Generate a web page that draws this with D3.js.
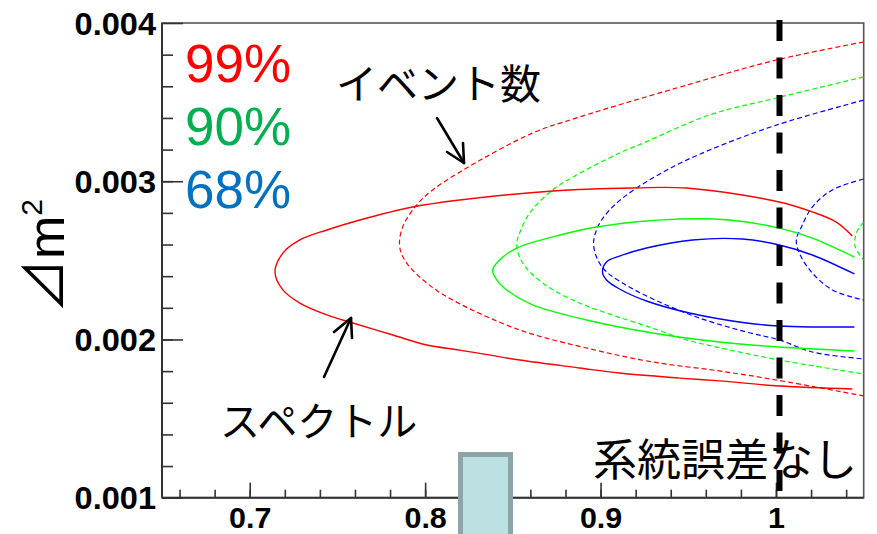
<!DOCTYPE html>
<html>
<head>
<meta charset="utf-8">
<script src="https://cdn.jsdelivr.net/npm/d3@7"></script>
<style>
  html, body { margin: 0; padding: 0; background: #fff; }
  svg { display: block; }
</style>
</head>
<body>
<svg id="chart" width="877" height="534"></svg>
<script>
// Allowed regions in the (sin²2θ, Δm²) plane.
// Solid contours: spectrum-shape fit; dashed contours: event-count fit.
const xDomain = [0.65, 1.05];
const yDomain = [0.001, 0.004];
const xTickValues = [0.7, 0.8, 0.9, 1];
const xTickLabels = ["0.7", "0.8", "0.9", "1"];
const yTickValues = [0.001, 0.002, 0.003, 0.004];
const yTickLabels = ["0.001", "0.002", "0.003", "0.004"];
const clLabels = ["99%", "90%", "68%"];
const clColors = ["#ff0000", "#00b050", "#0070c0"];
const noSystematicX = 1.002;

// spectrum fit, 99% / 90% / 68% C.L.
const spectrum99 = [
  [1.0435,0.002654],[1.0344,0.002742],[1.0207,0.002806],[1.0019,0.002869],[0.9490,0.002957],
  [0.9182,0.002957],[0.8727,0.002938],[0.8197,0.002881],[0.7929,0.002837],[0.7628,0.002755],
  [0.7440,0.002692],[0.7286,0.002629],[0.7189,0.002546],[0.7144,0.002426],[0.7189,0.002313],
  [0.7286,0.002230],[0.7440,0.002155],[0.7588,0.002104],[0.7816,0.002028],[0.8009,0.001965],
  [0.8197,0.001933],[0.8539,0.001870],[0.8880,0.001820],[0.9108,0.001788],[0.9450,0.001756],
  [0.9678,0.001738],[1.0019,0.001706],[1.0435,0.001687]
];
const spectrum90 = [
  [1.0447,0.002521],[1.0207,0.002641],[1.0019,0.002704],[0.9735,0.002755],[0.9450,0.002761],
  [0.8977,0.002711],[0.8727,0.002648],[0.8522,0.002578],[0.8425,0.002502],[0.8385,0.002439],
  [0.8408,0.002376],[0.8465,0.002313],[0.8613,0.002218],[0.8920,0.002123],[0.9296,0.002041],
  [0.9678,0.001984],[1.0019,0.001952],[1.0447,0.001927]
];
const spectrum68 = [
  [1.0447,0.002414],[1.0207,0.002534],[1.0019,0.002597],[0.9809,0.002635],[0.9524,0.002629],
  [0.9262,0.002578],[0.9108,0.002527],[0.9034,0.002490],[0.9011,0.002426],[0.9034,0.002376],
  [0.9108,0.002319],[0.9262,0.002243],[0.9507,0.002167],[0.9831,0.002104],[1.0019,0.002085],
  [1.0207,0.002079],[1.0447,0.002079]
];

// event-count fit, 99% / 90% / 68% C.L.
const events99 = [
  [1.0500,0.003880],[1.0002,0.003766],[0.9433,0.003589],[0.8863,0.003400],[0.8613,0.003305],
  [0.8237,0.003084],[0.8043,0.002945],[0.7952,0.002850],[0.7872,0.002711],[0.7855,0.002584],
  [0.7895,0.002483],[0.8009,0.002357],[0.8157,0.002249],[0.8539,0.002060],[0.8920,0.001946],
  [0.9296,0.001858],[0.9678,0.001801],[1.0002,0.001744],[1.0500,0.001643]
];
const events90 = [
  [1.0500,0.003659],[1.0002,0.003526],[0.9621,0.003419],[0.9245,0.003242],[0.9108,0.003178],
  [0.8863,0.003039],[0.8727,0.002945],[0.8596,0.002799],[0.8539,0.002673],[0.8522,0.002597],
  [0.8556,0.002483],[0.8670,0.002357],[0.8841,0.002249],[0.9034,0.002167],[0.9296,0.002072],
  [0.9490,0.001997],[0.9661,0.001952],[1.0019,0.001870],[1.0500,0.001782]
];
const events90Edge = [
  [1.0500,0.002742],[1.0458,0.002673],[1.0452,0.002584],[1.0500,0.002502]
];
const events68 = [
  [1.0500,0.003513],[1.0002,0.003355],[0.9621,0.003197],[0.9421,0.003096],[0.9205,0.002957],
  [0.9080,0.002850],[0.9006,0.002755],[0.8977,0.002692],[0.8960,0.002610],[0.8977,0.002521],
  [0.9023,0.002439],[0.9108,0.002369],[0.9262,0.002275],[0.9547,0.002142],[0.9831,0.002047],
  [1.0019,0.001997],[1.0207,0.001921],[1.0500,0.001877]
];
const events68Edge = [
  [1.0500,0.003014],[1.0321,0.002945],[1.0207,0.002837],[1.0145,0.002711],[1.0116,0.002629],
  [1.0133,0.002546],[1.0207,0.002420],[1.0321,0.002313],[1.0435,0.002268],[1.0500,0.002249]
];

const contours = [
  { pts: events99, color: "#ff0000", dashed: true },
  { pts: events90, color: "#00ff00", dashed: true },
  { pts: events90Edge, color: "#00ff00", dashed: true },
  { pts: events68, color: "#0000ff", dashed: true },
  { pts: events68Edge, color: "#0000ff", dashed: true },
  { pts: spectrum99, color: "#ff0000", dashed: false },
  { pts: spectrum90, color: "#00ff00", dashed: false },
  { pts: spectrum68, color: "#0000ff", dashed: false }
];

const svg = d3.select("#chart");
const frameL = 162, frameR = 863.7, frameT = 23, frameB = 497.7;
const x = d3.scaleLinear().domain(xDomain).range([frameL, frameR]);
const y = d3.scaleLinear().domain(yDomain).range([frameB, frameT]);

svg.append("defs").append("clipPath").attr("id", "plotClip")
  .append("rect").attr("x", frameL).attr("y", frameT)
  .attr("width", frameR - frameL).attr("height", frameB - frameT);

// frame
svg.append("rect")
  .attr("x", frameL).attr("y", frameT)
  .attr("width", frameR - frameL).attr("height", frameB - frameT)
  .attr("fill", "none").attr("stroke", "#555").attr("stroke-width", 1.6);

// contours
const line = d3.line().x(d => x(d[0])).y(d => y(d[1])).curve(d3.curveCatmullRom.alpha(0.5));
const cg = svg.append("g").attr("clip-path", "url(#plotClip)");
contours.forEach(c => {
  cg.append("path")
    .attr("d", line(c.pts))
    .attr("fill", "none")
    .attr("stroke", c.color)
    .attr("stroke-width", c.dashed ? 1.2 : 1.4)
    .attr("stroke-dasharray", c.dashed ? "5,3" : null);
});

// axes
const tickFont = "'Liberation Sans', Arial, sans-serif";
const xMinor = d3.range(0.66, 1.041, 0.02);
const yMinor = d3.range(0.0012, 0.00395, 0.0002);

const xAxisMinor = d3.axisBottom(x).tickValues(xMinor).tickSize(-8).tickFormat("");
const xAxis = d3.axisBottom(x).tickValues(xTickValues).tickSize(-15).tickPadding(10)
  .tickFormat((d, i) => xTickLabels[i]);
const yAxisMinor = d3.axisLeft(y).tickValues(yMinor).tickSize(-11).tickFormat("");
const yAxis = d3.axisLeft(y).tickValues(yTickValues).tickSize(-21).tickPadding(6)
  .tickFormat((d, i) => yTickLabels[i]);

// bold tick labels, drawn slightly wide
function styleAxis(size) {
  return g => {
    g.select(".domain").remove();
    g.selectAll(".tick line").attr("stroke", "#333").attr("stroke-width", 1.6);
    g.selectAll("text").attr("font-family", tickFont).attr("font-weight", "bold")
      .attr("font-size", size).attr("fill", "#000")
      .each(function () {
        const w = this.getComputedTextLength();
        if (w > 0) d3.select(this).attr("textLength", w * 1.05).attr("lengthAdjust", "spacingAndGlyphs");
      });
  };
}
svg.append("g").attr("transform", `translate(0,${frameB})`).call(xAxisMinor).call(styleAxis(29));
svg.append("g").attr("transform", `translate(0,${frameB})`).call(xAxis).call(styleAxis(29));
svg.append("g").attr("transform", `translate(${frameL},0)`).call(yAxisMinor).call(styleAxis(31));
svg.append("g").attr("transform", `translate(${frameL},0)`).call(yAxis).call(styleAxis(31))
  .selectAll("text").attr("dy", "0.36em");

svg.append("line").attr("x1", frameL).attr("x2", frameL).attr("y1", frameT).attr("y2", frameB)
  .attr("stroke", "#333").attr("stroke-width", 2);
svg.append("line").attr("x1", frameL).attr("x2", frameR).attr("y1", frameB).attr("y2", frameB)
  .attr("stroke", "#333").attr("stroke-width", 2);

// y-axis title ⊿m²
const yt = svg.append("text")
  .attr("transform", "translate(64,313) rotate(-90)")
  .attr("fill", "#000");
yt.append("tspan").attr("font-family", "'Noto Sans CJK JP', sans-serif").attr("font-size", 54).text("⊿");
yt.append("tspan").attr("font-family", tickFont).attr("font-size", 52).text("m");
yt.append("tspan").attr("font-family", tickFont).attr("font-size", 30).attr("dy", -22).text("2");

// confidence-level legend
const legendFont = "'Liberation Sans', Arial, sans-serif";
const legendBase = [81.5, 145, 208];
clLabels.forEach((t, i) => {
  svg.append("text").attr("x", 185).attr("y", legendBase[i])
    .attr("font-family", legendFont).attr("font-size", 53)
    .attr("fill", clColors[i]).text(t);
});

// annotations
const jp = "'Noto Sans CJK JP', sans-serif";
svg.append("text").attr("x", 336).attr("y", 99).attr("font-family", jp)
  .attr("font-size", 41).attr("fill", "#000").text("イベント数");
svg.append("text").attr("x", 220).attr("y", 436).attr("font-family", jp)
  .attr("font-size", 40).attr("fill", "#000").text("スペクトル");

function arrow(x1, y1, x2, y2, b1, b2) {
  const g = svg.append("g").attr("stroke", "#000").attr("stroke-width", 2.6)
    .attr("fill", "none").attr("stroke-linecap", "round").attr("stroke-linejoin", "round");
  g.append("line").attr("x1", x1).attr("y1", y1).attr("x2", x2).attr("y2", y2);
  g.append("polyline").attr("points", `${b1[0]},${b1[1]} ${x2},${y2} ${b2[0]},${b2[1]}`);
}
arrow(437, 118, 464, 163, [447, 152], [463, 143]);
arrow(324, 377, 351, 318, [334, 332], [352, 338]);

// no-systematic-error reference line
svg.append("line")
  .attr("x1", x(noSystematicX)).attr("x2", x(noSystematicX))
  .attr("y1", 20).attr("y2", frameB)
  .attr("stroke", "#000").attr("stroke-width", 6)
  .attr("stroke-dasharray", "21,16.5");
svg.append("text").attr("x", 593).attr("y", 476).attr("font-family", jp)
  .attr("font-size", 44).attr("fill", "#000").text("系統誤差なし");

// slider box at the bottom edge
svg.append("rect").attr("x", 460.5).attr("y", 454.5).attr("width", 50).attr("height", 100)
  .attr("fill", "#bde0e3").attr("stroke", "#8ca5a7").attr("stroke-width", 5);
</script>
</body>
</html>
